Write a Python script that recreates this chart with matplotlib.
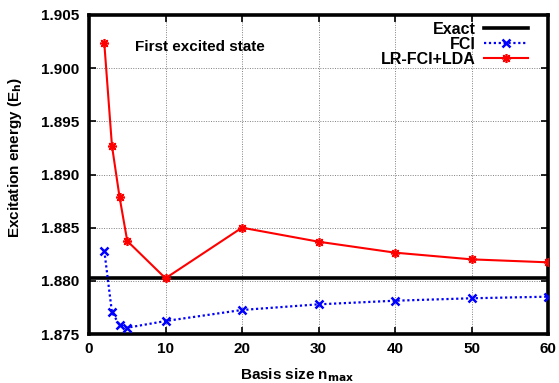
import matplotlib
matplotlib.use("Agg")
import matplotlib.pyplot as plt

# datos
n_max = [2, 3, 4, 5, 10, 20, 30, 40, 50, 60]
fci = [1.88283, 1.87704, 1.87585, 1.87559, 1.87622, 1.87726, 1.87779, 1.87813, 1.87836, 1.87851]
lr_fci_lda = [1.90234, 1.89271, 1.88785, 1.88375, 1.88024, 1.88500, 1.88368, 1.88265, 1.88202, 1.88174]
exacta = 1.8803

plt.rcParams['font.family'] = ['Liberation Sans', 'DejaVu Sans']
plt.rcParams['font.weight'] = 'bold'

fig = plt.figure(figsize=(5.59, 3.83), dpi=100)
ax = fig.add_axes([89 / 559, 1 - 334 / 383, (548 - 89) / 559, (334 - 15) / 383])

ax.axhline(exacta, color='black', lw=2.6, label='Exact', zorder=3)
ax.plot(n_max, fci, color='blue', ls=(0, (1, 1.2)), lw=1.6, marker='x', ms=6,
        mew=1.8, label='FCI', zorder=4)
ax.plot(n_max, lr_fci_lda, color='red', lw=1.5, marker=(8, 2, 0), ms=6.5,
        mew=1.2, label='LR-FCI+LDA', zorder=5)

ax.set_xlim(0, 60)
ax.set_ylim(1.875, 1.905)
ax.set_xticks(range(0, 61, 10))
ax.set_yticks([1.875, 1.880, 1.885, 1.890, 1.895, 1.900, 1.905])
ax.set_yticklabels(['%.3f' % v for v in ax.get_yticks()])
ax.grid(True, color='gray', ls=(0, (1, 1.5)), lw=0.7)
ax.set_axisbelow(True)
ax.tick_params(direction='in', top=True, right=True, length=5, width=1.2,
               labelsize=11)
ax.tick_params(axis='y', pad=7)
ax.tick_params(axis='x', pad=6)
for sp in ax.spines.values():
    sp.set_linewidth(2.6)

ax.text(6, 1.9020, 'First excited state', fontsize=11, fontweight='bold', va='center')

ax.set_xlabel('Basis size n$_{\\mathbf{max}}$', fontsize=11, fontweight='bold')
ax.set_ylabel('Excitation energy (E$_{\\mathbf{h}}$)', fontsize=11, fontweight='bold')
ax.xaxis.set_label_coords(0.454, -0.1)
ax.yaxis.set_label_coords(-0.141, 0.555)

leg = ax.legend(loc='upper right', bbox_to_anchor=(0.963, 0.988), markerfirst=False,
                frameon=False, fontsize=11.5, handlelength=2.75, labelspacing=0.0,
                borderaxespad=0.0, borderpad=0.2, handletextpad=0.5)

fig.savefig('out.png', dpi=100)
